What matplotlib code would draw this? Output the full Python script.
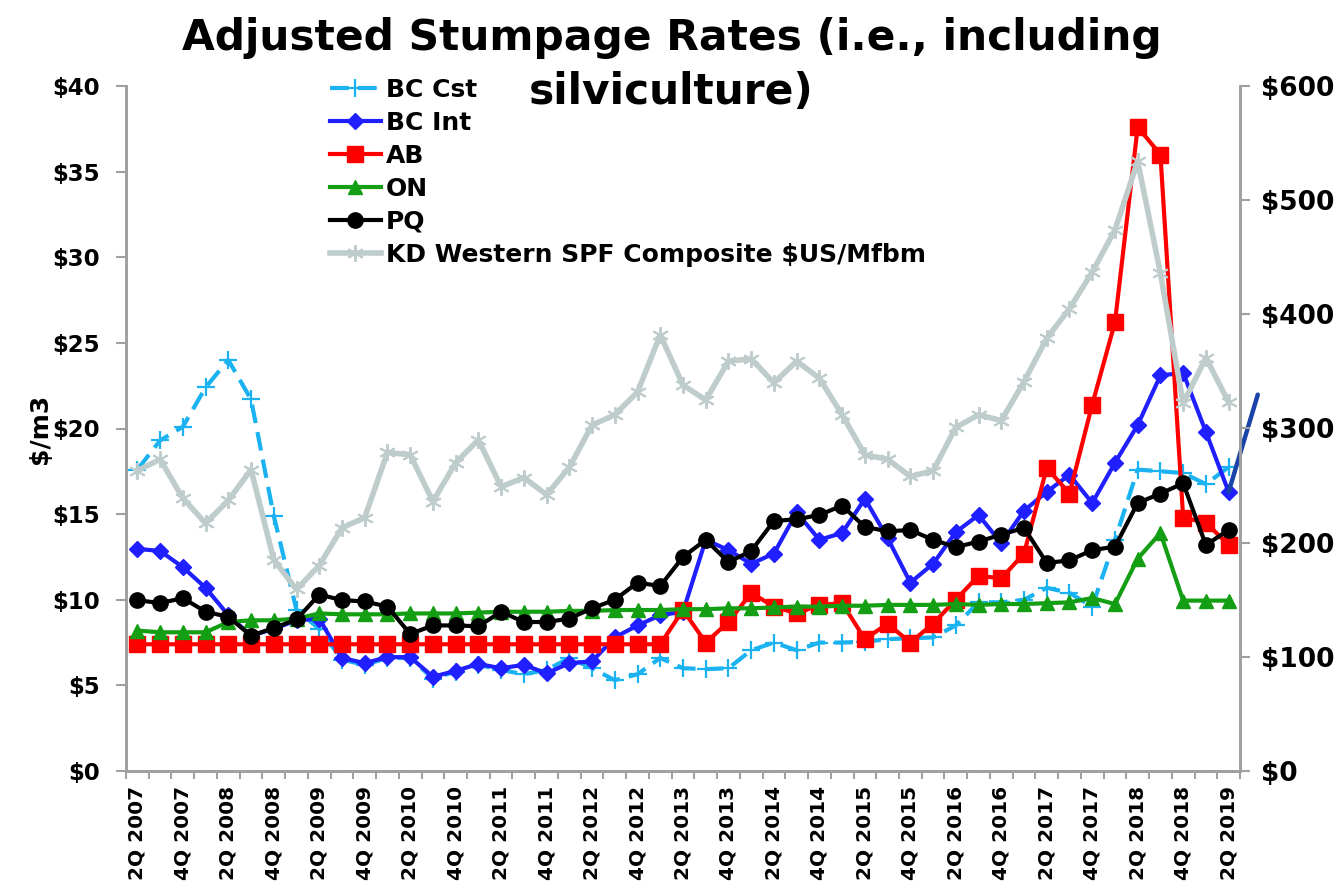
import numpy as np
import matplotlib
matplotlib.use('Agg')
import matplotlib.pyplot as plt
from matplotlib.ticker import FixedLocator, FuncFormatter

# ─── Data (quarterly, 2Q 2007 .. 2Q 2019) ──────────────────────────────────
tick_labels = ['2Q 2007', '4Q 2007', '2Q 2008', '4Q 2008', '2Q 2009', '4Q 2009',
               '2Q 2010', '4Q 2010', '2Q 2011', '4Q 2011', '2Q 2012', '4Q 2012',
               '2Q 2013', '4Q 2013', '2Q 2014', '4Q 2014', '2Q 2015', '4Q 2015',
               '2Q 2016', '4Q 2016', '2Q 2017', '4Q 2017', '2Q 2018', '4Q 2018',
               '2Q 2019']

bc_cst = [17.6, 19.3, 20.1, 22.4, 24.0, 21.7, 14.9, 9.4, 8.3, 6.5,
          6.2, 6.6, 6.6, 5.4, 5.8, 6.2, 5.9, 5.65, 5.9, 6.6,
          6.0, 5.3, 5.65, 6.6, 6.0, 5.95, 6.0, 7.05, 7.5, 7.05,
          7.5, 7.5, 7.55, 7.7, 7.75, 7.8, 8.5, 9.85, 9.85, 10.0,
          10.7, 10.4, 9.6, 13.5, 17.6, 17.5, 17.4, 16.75, 17.75]

bc_int = [12.97, 12.85, 11.9, 10.7, 9.1, 7.9, 8.3, 8.8, 8.9, 6.6,
          6.3, 6.65, 6.65, 5.5, 5.85, 6.25, 6.0, 6.2, 5.7, 6.3,
          6.4, 7.8, 8.5, 9.1, 9.3, 13.5, 12.9, 12.1, 12.7, 15.1,
          13.5, 13.9, 15.9, 13.6, 11.0, 12.1, 13.95, 14.95, 13.3, 15.2,
          16.3, 17.3, 15.65, 18.0, 20.2, 23.1, 23.25, 19.8, 16.3]

ab = [7.4, 7.4, 7.4, 7.4, 7.4, 7.4, 7.4, 7.4, 7.4, 7.4,
      7.4, 7.4, 7.4, 7.4, 7.4, 7.4, 7.4, 7.4, 7.4, 7.4,
      7.4, 7.4, 7.4, 7.4, 9.4, 7.5, 8.7, 10.4, 9.6, 9.2,
      9.7, 9.8, 7.7, 8.6, 7.5, 8.6, 10.0, 11.4, 11.25, 12.7,
      17.7, 16.2, 21.4, 26.2, 37.6, 36.0, 14.8, 14.5, 13.2]

on = [8.2, 8.1, 8.1, 8.1, 8.7, 8.8, 8.8, 8.9, 9.2, 9.15,
      9.15, 9.15, 9.2, 9.2, 9.2, 9.25, 9.3, 9.3, 9.3, 9.35,
      9.35, 9.4, 9.4, 9.4, 9.45, 9.45, 9.5, 9.5, 9.55, 9.6,
      9.6, 9.65, 9.65, 9.7, 9.7, 9.7, 9.75, 9.7, 9.75, 9.75,
      9.8, 9.85, 10.1, 9.75, 12.4, 13.9, 9.95, 9.95, 9.95]

pq = [9.98, 9.8, 10.1, 9.3, 9.0, 7.9, 8.35, 8.85, 10.3, 9.98,
      9.9, 9.6, 8.0, 8.5, 8.5, 8.45, 9.3, 8.7, 8.7, 8.9,
      9.5, 10.0, 11.0, 10.8, 12.5, 13.5, 12.2, 12.85, 14.6, 14.7,
      14.95, 15.5, 14.25, 14.0, 14.07, 13.5, 13.07, 13.4, 13.8, 14.2,
      12.15, 12.3, 12.9, 13.1, 15.65, 16.2, 16.8, 13.2, 14.07]

# KD Western SPF Composite, $US/Mfbm (right axis)
kd = [263, 273, 239, 217, 237, 264, 185, 159, 180, 213,
      222, 279, 277, 236, 270, 290, 249, 257, 242, 266,
      303, 312, 332, 382, 338, 325, 359, 361, 340, 359,
      344, 312, 277, 273, 258, 263, 301, 312, 307, 341,
      379, 405, 437, 474, 534, 436, 322, 362, 323]

# ─── Styling ────────────────────────────────────────────────────────────────
plt.rcParams['font.family'] = 'DejaVu Sans'
plt.rcParams['font.weight'] = 'bold'

C_CST = '#1AB2F0'
C_INT = '#1F1FFF'
C_AB = '#FF0000'
C_ON = '#149E14'
C_PQ = '#000000'
C_KD = '#BFCCCC'
SPINE = '#A0A0A0'

x = np.arange(len(bc_int))

fig = plt.figure(figsize=(13.43, 8.89), dpi=100)
ax = fig.add_axes([126 / 1343, 1 - 771 / 889, (1240 - 126) / 1343, (771 - 86) / 889])
ax2 = ax.twinx()

l_cst, = ax.plot(x, bc_cst, color=C_CST, lw=3, ls=(0, (4.5, 2.2)), marker='+',
                 ms=13, mew=1.6, label='BC Cst')
l_int, = ax.plot(x, bc_int, color=C_INT, lw=3, marker='D', ms=8.5, label='BC Int')
l_ab, = ax.plot(x, ab, color=C_AB, lw=3, marker='s', ms=11, label='AB')
l_on, = ax.plot(x, on, color=C_ON, lw=3, marker='^', ms=10, label='ON')
l_pq, = ax.plot(x, pq, color=C_PQ, lw=3, marker='o', ms=11, label='PQ')
l_kd, = ax2.plot(x, kd, color=C_KD, lw=4, marker=(6, 2, 0), ms=12, mew=1.4,
                 label='KD Western SPF Composite $US/Mfbm')

# stray pen stroke next to the last BC Int point
ax.annotate('', xy=(x[-1], bc_int[-1]), xytext=(21, 70), textcoords='offset points',
            arrowprops=dict(arrowstyle='-', color='#1A44A8', lw=3.2,
                            shrinkA=0, shrinkB=0), annotation_clip=False)

# ─── Axes ──────────────────────────────────────────────────────────────────
ax.set_xlim(-0.5, len(x) - 0.5)
ax.set_ylim(0, 40)
ax2.set_ylim(0, 600)

ax.xaxis.set_major_locator(FixedLocator(x[::2]))
ax.set_xticklabels(tick_labels, rotation=90, fontsize=14.5, fontweight='bold')
ax.xaxis.set_minor_locator(FixedLocator(np.arange(-0.5, len(x), 1.0)))
ax.tick_params(axis='x', which='major', length=0, pad=11)
ax.tick_params(axis='x', which='minor', length=6, width=1.5, color=SPINE)

ax.set_yticks(np.arange(0, 41, 5))
ax.yaxis.set_major_formatter(FuncFormatter(lambda v, p: f'${v:.0f}'))
ax.tick_params(axis='y', length=7, width=1.5, color=SPINE, labelsize=16.5, pad=12)

ax2.set_yticks(np.arange(0, 601, 100))
ax2.yaxis.set_major_formatter(FuncFormatter(lambda v, p: f'${v:.0f}'))
ax2.tick_params(axis='y', length=7, width=1.5, color=SPINE, labelsize=19, pad=8)

for a in (ax, ax2):
    a.spines['top'].set_visible(False)
    for s in ('left', 'right', 'bottom'):
        a.spines[s].set_color(SPINE)
        a.spines[s].set_linewidth(2)

ax.set_ylabel('$/m3', fontsize=18, fontweight='bold', labelpad=0)

ax2.legend(handles=[l_cst, l_int, l_ab, l_on, l_pq, l_kd], loc='upper left',
           bbox_to_anchor=(0.183, 1.012), frameon=False, fontsize=18,
           handlelength=2.05, handletextpad=0.2, labelspacing=0.36,
           borderaxespad=0, borderpad=0)

fig.text(0.5, 1 - 38 / 889, 'Adjusted Stumpage Rates (i.e., including',
         ha='center', va='center', fontsize=30.5, fontweight='bold')
fig.text(0.5, 1 - 92 / 889, 'silviculture)',
         ha='center', va='center', fontsize=30.5, fontweight='bold')

fig.savefig('out.png', dpi=100)
